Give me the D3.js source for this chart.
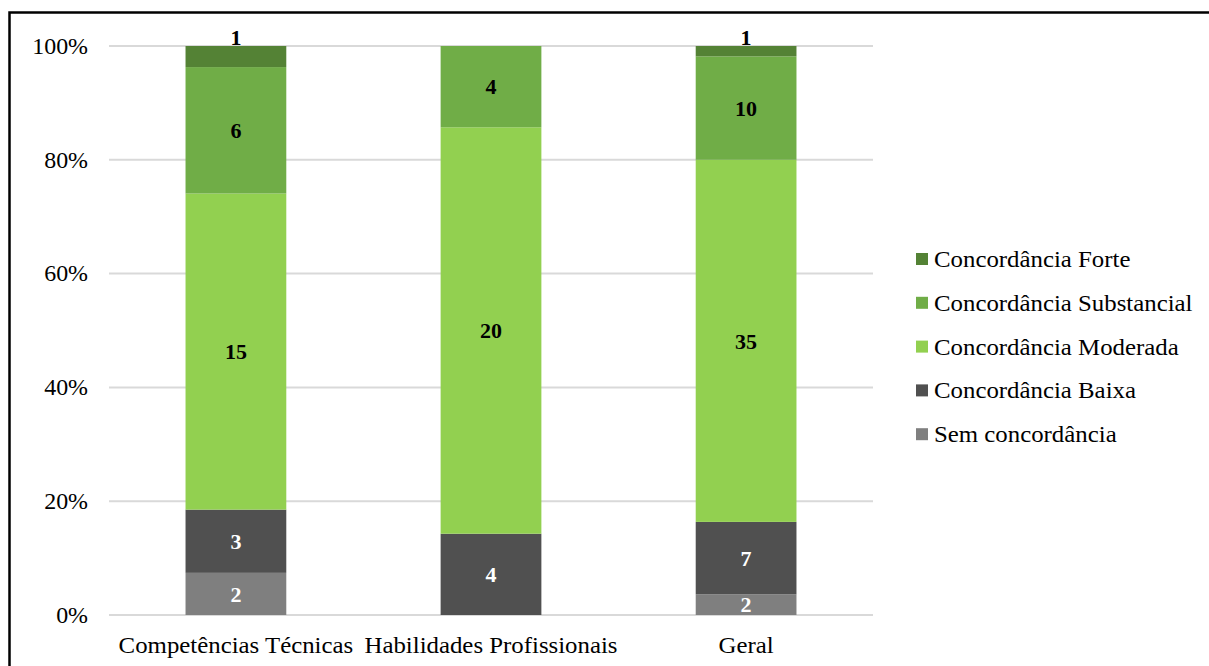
<!DOCTYPE html>
<html><head><meta charset="utf-8">
<script src="https://cdn.jsdelivr.net/npm/d3@7"></script>
<style>body{margin:0;background:#fff;}svg{display:block;font-family:"Liberation Serif","Times New Roman",serif;}</style>
</head><body>
<svg id="c" width="1209" height="666"></svg>
<script>
const categories = ["Competências Técnicas", "Habilidades Profissionais", "Geral"];
const seriesNames = ["Sem concordância", "Concordância Baixa", "Concordância Moderada", "Concordância Substancial", "Concordância Forte"];
const semConcordancia = [2, 0, 2];
const concordanciaBaixa = [3, 4, 7];
const concordanciaModerada = [15, 20, 35];
const concordanciaSubstancial = [6, 4, 10];
const concordanciaForte = [1, 0, 1];
const yTicks = [0, 0.2, 0.4, 0.6, 0.8, 1];
const colors = ["#7f7f7f", "#505050", "#92d050", "#70ad47", "#548235"];
const labelColors = ["#ffffff", "#ffffff", "#000000", "#000000", "#000000"];

const seriesValues = [semConcordancia, concordanciaBaixa, concordanciaModerada, concordanciaSubstancial, concordanciaForte];
const rows = categories.map((c, i) => {
  const r = {cat: c};
  seriesNames.forEach((s, j) => r[s] = seriesValues[j][i]);
  return r;
});
const stack = d3.stack().keys(seriesNames).offset(d3.stackOffsetExpand);
const stacked = stack(rows);

const svg = d3.select("#c");
const x = d3.scaleBand().domain(categories).range([109, 873]).paddingInner(0.605).paddingOuter(0.3);
const y = d3.scaleLinear().domain([0, 1]).range([615, 46]);
const sx = 1.08;

// border
svg.append("rect").attr("x", 9.5).attr("y", 12.5).attr("width", 1400).attr("height", 800)
  .attr("fill", "none").attr("stroke", "#000").attr("stroke-width", 2.5);

// gridlines
svg.append("g").selectAll("line").data(yTicks).join("line")
  .attr("x1", 109).attr("x2", 873).attr("y1", d => y(d)).attr("y2", d => y(d))
  .attr("stroke", "#d9d9d9").attr("stroke-width", 2);

// y axis
const yAxis = d3.axisLeft(y).tickValues(yTicks).tickFormat(d3.format(".0%")).tickSize(0).tickPadding(21);
const ga = svg.append("g").attr("transform", "translate(109,0)").call(yAxis);
ga.select(".domain").remove();
ga.selectAll("text").attr("font-family", "Liberation Serif").attr("font-size", 23).attr("fill", "#000")
  .attr("x", -21 / 1.04).attr("transform", "scale(1.04,1)");

// x axis
const xAxis = d3.axisBottom(x).tickSize(0).tickPadding(22);
const gx = svg.append("g").attr("transform", "translate(0,615)").call(xAxis);
gx.select(".domain").remove();
gx.selectAll("text").attr("font-family", "Liberation Serif").attr("font-size", 23).attr("fill", "#000")
  .attr("transform", `scale(${sx},1)`);

// bars
const layers = svg.append("g").selectAll("g").data(stacked).join("g")
  .attr("fill", (d, i) => colors[i]);
layers.selectAll("rect").data(d => d.filter(p => p[1] > p[0])).join("rect")
  .attr("x", d => x(d.data.cat)).attr("width", x.bandwidth())
  .attr("y", d => y(d[1])).attr("height", d => y(d[0]) - y(d[1]));

// labels
stacked.forEach((layer, i) => {
  svg.append("g").selectAll("text").data(layer.filter(p => p[1] > p[0])).join("text")
    .attr("x", d => x(d.data.cat) + x.bandwidth() / 2)
    .attr("y", d => i === 4 ? y(d[1]) - 1 : (y(d[0]) + y(d[1])) / 2)
    .attr("dy", i === 4 ? 0 : "0.35em")
    .attr("text-anchor", "middle")
    .attr("font-weight", "bold").attr("font-size", 22)
    .attr("fill", labelColors[i])
    .text(d => d.data[layer.key]);
});

// legend
const legendOrder = seriesNames.slice().reverse();
const lg = svg.append("g").selectAll("g").data(legendOrder).join("g")
  .attr("transform", (d, i) => `translate(916,${259 + i * 43.8})`);
lg.append("rect").attr("x", 0).attr("y", -6).attr("width", 12).attr("height", 12)
  .attr("fill", d => colors[seriesNames.indexOf(d)]);
lg.append("text").attr("x", 18 / sx).attr("dy", "0.35em").attr("font-size", 23).attr("fill", "#000")
  .attr("transform", `scale(${sx},1)`).text(d => d);
</script>
</body></html>
